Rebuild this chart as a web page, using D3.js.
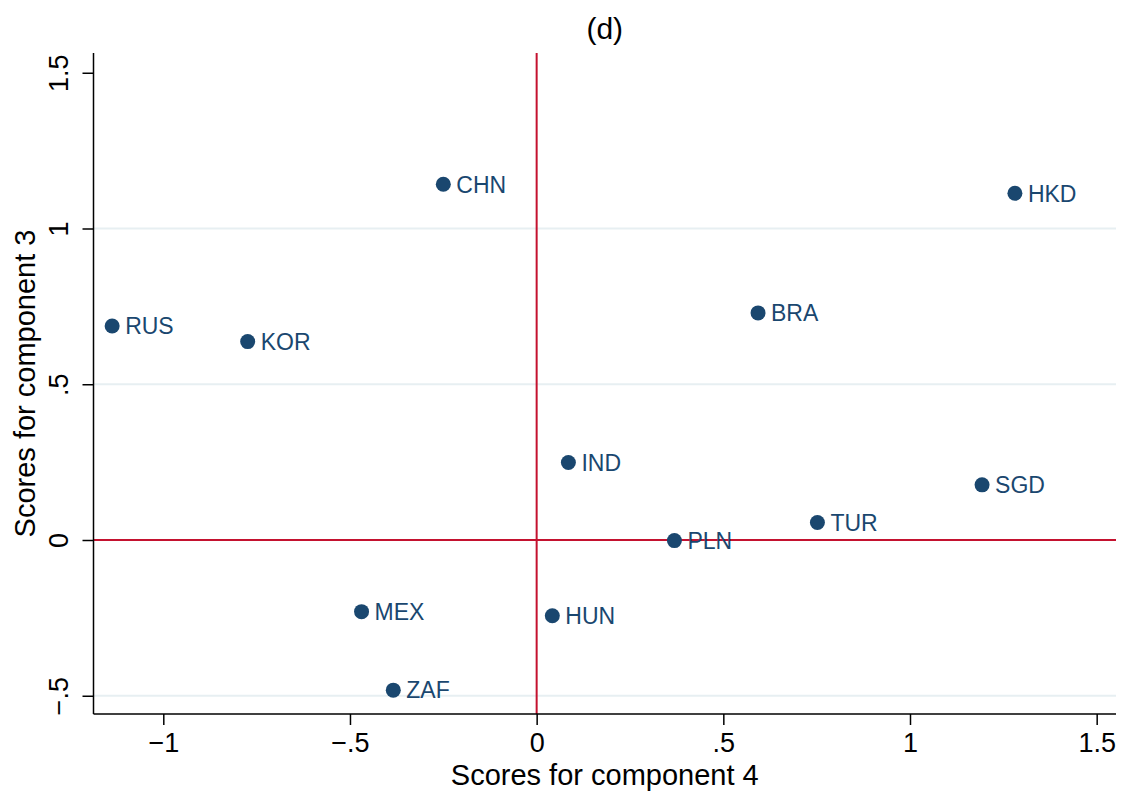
<!DOCTYPE html>
<html><head><meta charset="utf-8">
<script src="https://cdn.jsdelivr.net/npm/d3@7"></script>
<style>body{margin:0;background:#fff}svg{display:block}text{font-family:"Liberation Sans",Arial,Helvetica,sans-serif}</style>
</head><body><svg id="c" width="1126" height="797"></svg>
<script>
const countries = ["CHN","HKD","RUS","KOR","BRA","IND","SGD","TUR","PLN","MEX","HUN","ZAF"];
const comp4 = [-0.250, 1.281, -1.137, -0.774, 0.593, 0.085, 1.193, 0.752, 0.369, -0.469, 0.042, -0.384];
const comp3 = [1.142, 1.113, 0.687, 0.637, 0.729, 0.249, 0.177, 0.056, -0.002, -0.230, -0.243, -0.482];
const xTicks = [-1, -0.5, 0, 0.5, 1, 1.5];
const yTicks = [-0.5, 0, 0.5, 1, 1.5];
const gridTicks = [-0.5, 0.5, 1];
const title = "(d)";
const xTitle = "Scores for component 4";
const yTitle = "Scores for component 3";

const fmt = v => v === 0 ? "0" : (v < 0 ? "\u2212" : "") + String(Math.abs(v)).replace(/^0\./, ".");

const L = 93.5, R = 1116, T = 53, B = 714;
const x = d3.scaleLinear().domain([-1, 1]).range([163.3, 910]);
const y = d3.scaleLinear().domain([0, 1]).range([540, 228.5]);
const svg = d3.select("#c");
const blue = "#1a476f", red = "#c4122f";

// gridlines
svg.append("g").selectAll("line").data(gridTicks).join("line")
  .attr("x1", L).attr("x2", R).attr("y1", d => y(d)).attr("y2", d => y(d))
  .attr("stroke", "#e7eff2").attr("stroke-width", 2);

// reference lines
svg.append("line").attr("x1", L).attr("x2", R).attr("y1", y(0)).attr("y2", y(0))
  .attr("stroke", red).attr("stroke-width", 2);
svg.append("line").attr("x1", x(0)).attr("x2", x(0)).attr("y1", T).attr("y2", B)
  .attr("stroke", red).attr("stroke-width", 2);

// axes
const xAxis = d3.axisBottom(x).tickValues(xTicks).tickFormat(fmt).tickSize(11).tickPadding(6);
const gx = svg.append("g").attr("transform", `translate(0,${B})`).call(xAxis);
gx.select(".domain").remove();
gx.append("line").attr("x1", L).attr("x2", R).attr("stroke", "#000").attr("stroke-width", 1.5);
gx.selectAll(".tick line").attr("stroke", "#000").attr("stroke-width", 1.5);
gx.selectAll(".tick text").attr("font-size", 27).attr("fill", "#000")
  .attr("font-family", "Liberation Sans, Arial, sans-serif").attr("dy", "0.71em").attr("y", 19);

const yAxis = d3.axisLeft(y).tickValues(yTicks).tickFormat(fmt).tickSize(11);
const gy = svg.append("g").attr("transform", `translate(${L},0)`).call(yAxis);
gy.select(".domain").remove();
gy.append("line").attr("y1", T).attr("y2", B).attr("stroke", "#000").attr("stroke-width", 1.5);
gy.selectAll(".tick line").attr("stroke", "#000").attr("stroke-width", 1.5);
gy.selectAll(".tick text").attr("font-size", 27).attr("fill", "#000")
  .attr("font-family", "Liberation Sans, Arial, sans-serif")
  .attr("x", null).attr("dy", null).attr("text-anchor", "middle")
  .attr("transform", `translate(${68 - L},0) rotate(-90)`);

// points
const data = countries.map((c, i) => ({c, x: comp4[i], y: comp3[i]}));
svg.append("g").selectAll("circle").data(data).join("circle")
  .attr("cx", d => x(d.x)).attr("cy", d => y(d.y)).attr("r", 7.5).attr("fill", blue);
svg.append("g").selectAll("text").data(data).join("text")
  .attr("x", d => x(d.x) + 13).attr("y", d => y(d.y)).attr("dy", "0.36em")
  .attr("font-size", 23).attr("fill", blue).text(d => d.c);

// titles
svg.append("text").attr("x", (L + R) / 2).attr("y", 39).attr("text-anchor", "middle")
  .attr("font-size", 30).text(title);
svg.append("text").attr("x", (L + R) / 2).attr("y", 785).attr("text-anchor", "middle")
  .attr("font-size", 29).text(xTitle);
svg.append("text").attr("transform", `translate(35,${(T + B) / 2}) rotate(-90)`)
  .attr("text-anchor", "middle").attr("font-size", 29).text(yTitle);
</script></body></html>
